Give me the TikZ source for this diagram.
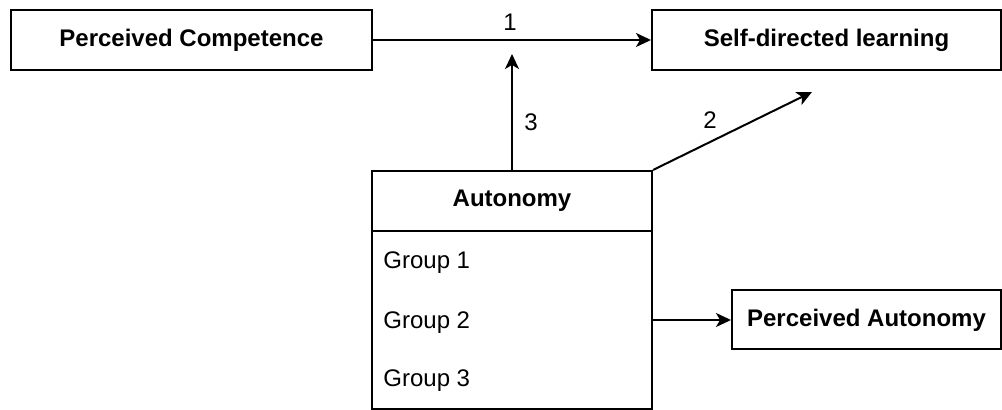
\documentclass[tikz,border=0pt]{standalone}
\usepackage{fontspec}
\setmainfont{Liberation Sans}
\usetikzlibrary{arrows.meta}
\begin{document}
\begin{tikzpicture}[x=0.5pt, y=-0.5pt,
  box/.style={draw, rectangle, line width=1pt, inner sep=0pt, font=\fontsize{12}{14}\selectfont\bfseries},
  lbl/.style={inner sep=0pt, font=\fontsize{12}{14}\selectfont},
  arr/.style={-{Stealth[length=7.5pt, width=7pt, inset=2pt]}, line width=1pt}]
\useasboundingbox (0,0) rectangle (1002,410);
\node[box, minimum width=180.5pt, minimum height=30pt] (pc) at (191.5,40) {Perceived Competence};
\node[box, minimum width=174.5pt, minimum height=30pt] (sdl) at (826.5,40) {Self-directed learning};
\node[box, minimum width=140pt, minimum height=30pt] (auto) at (512,201) {Autonomy};
\node[draw, rectangle, line width=1pt, minimum width=140pt, minimum height=89pt] (grp) at (512,320) {};
\node[box, minimum width=134.5pt, minimum height=29.5pt] (pa) at (866.5,320) {Perceived Autonomy};
% group rows
\node[lbl, anchor=west] (g1) at (383,263) {Group 1};
\node[lbl, anchor=west] (g2) at (383,323) {Group 2};
\node[lbl, anchor=west] (g3) at (383,381) {Group 3};
% free arrow ends
\coordinate (c3) at (512,54);
\coordinate (c2) at (812,92);
\draw[arr] (pc.east) -- (sdl.west);
\draw[arr] (auto.north) -- (c3);
\draw[arr] (auto.north east) -- (c2);
\draw[arr] (grp.east) -- (pa.west);
\node[lbl] (l1) at (510,22) {1};
\node[lbl] (l3) at (531,122) {3};
\node[lbl] (l2) at (710,120) {2};
\end{tikzpicture}
\end{document}
